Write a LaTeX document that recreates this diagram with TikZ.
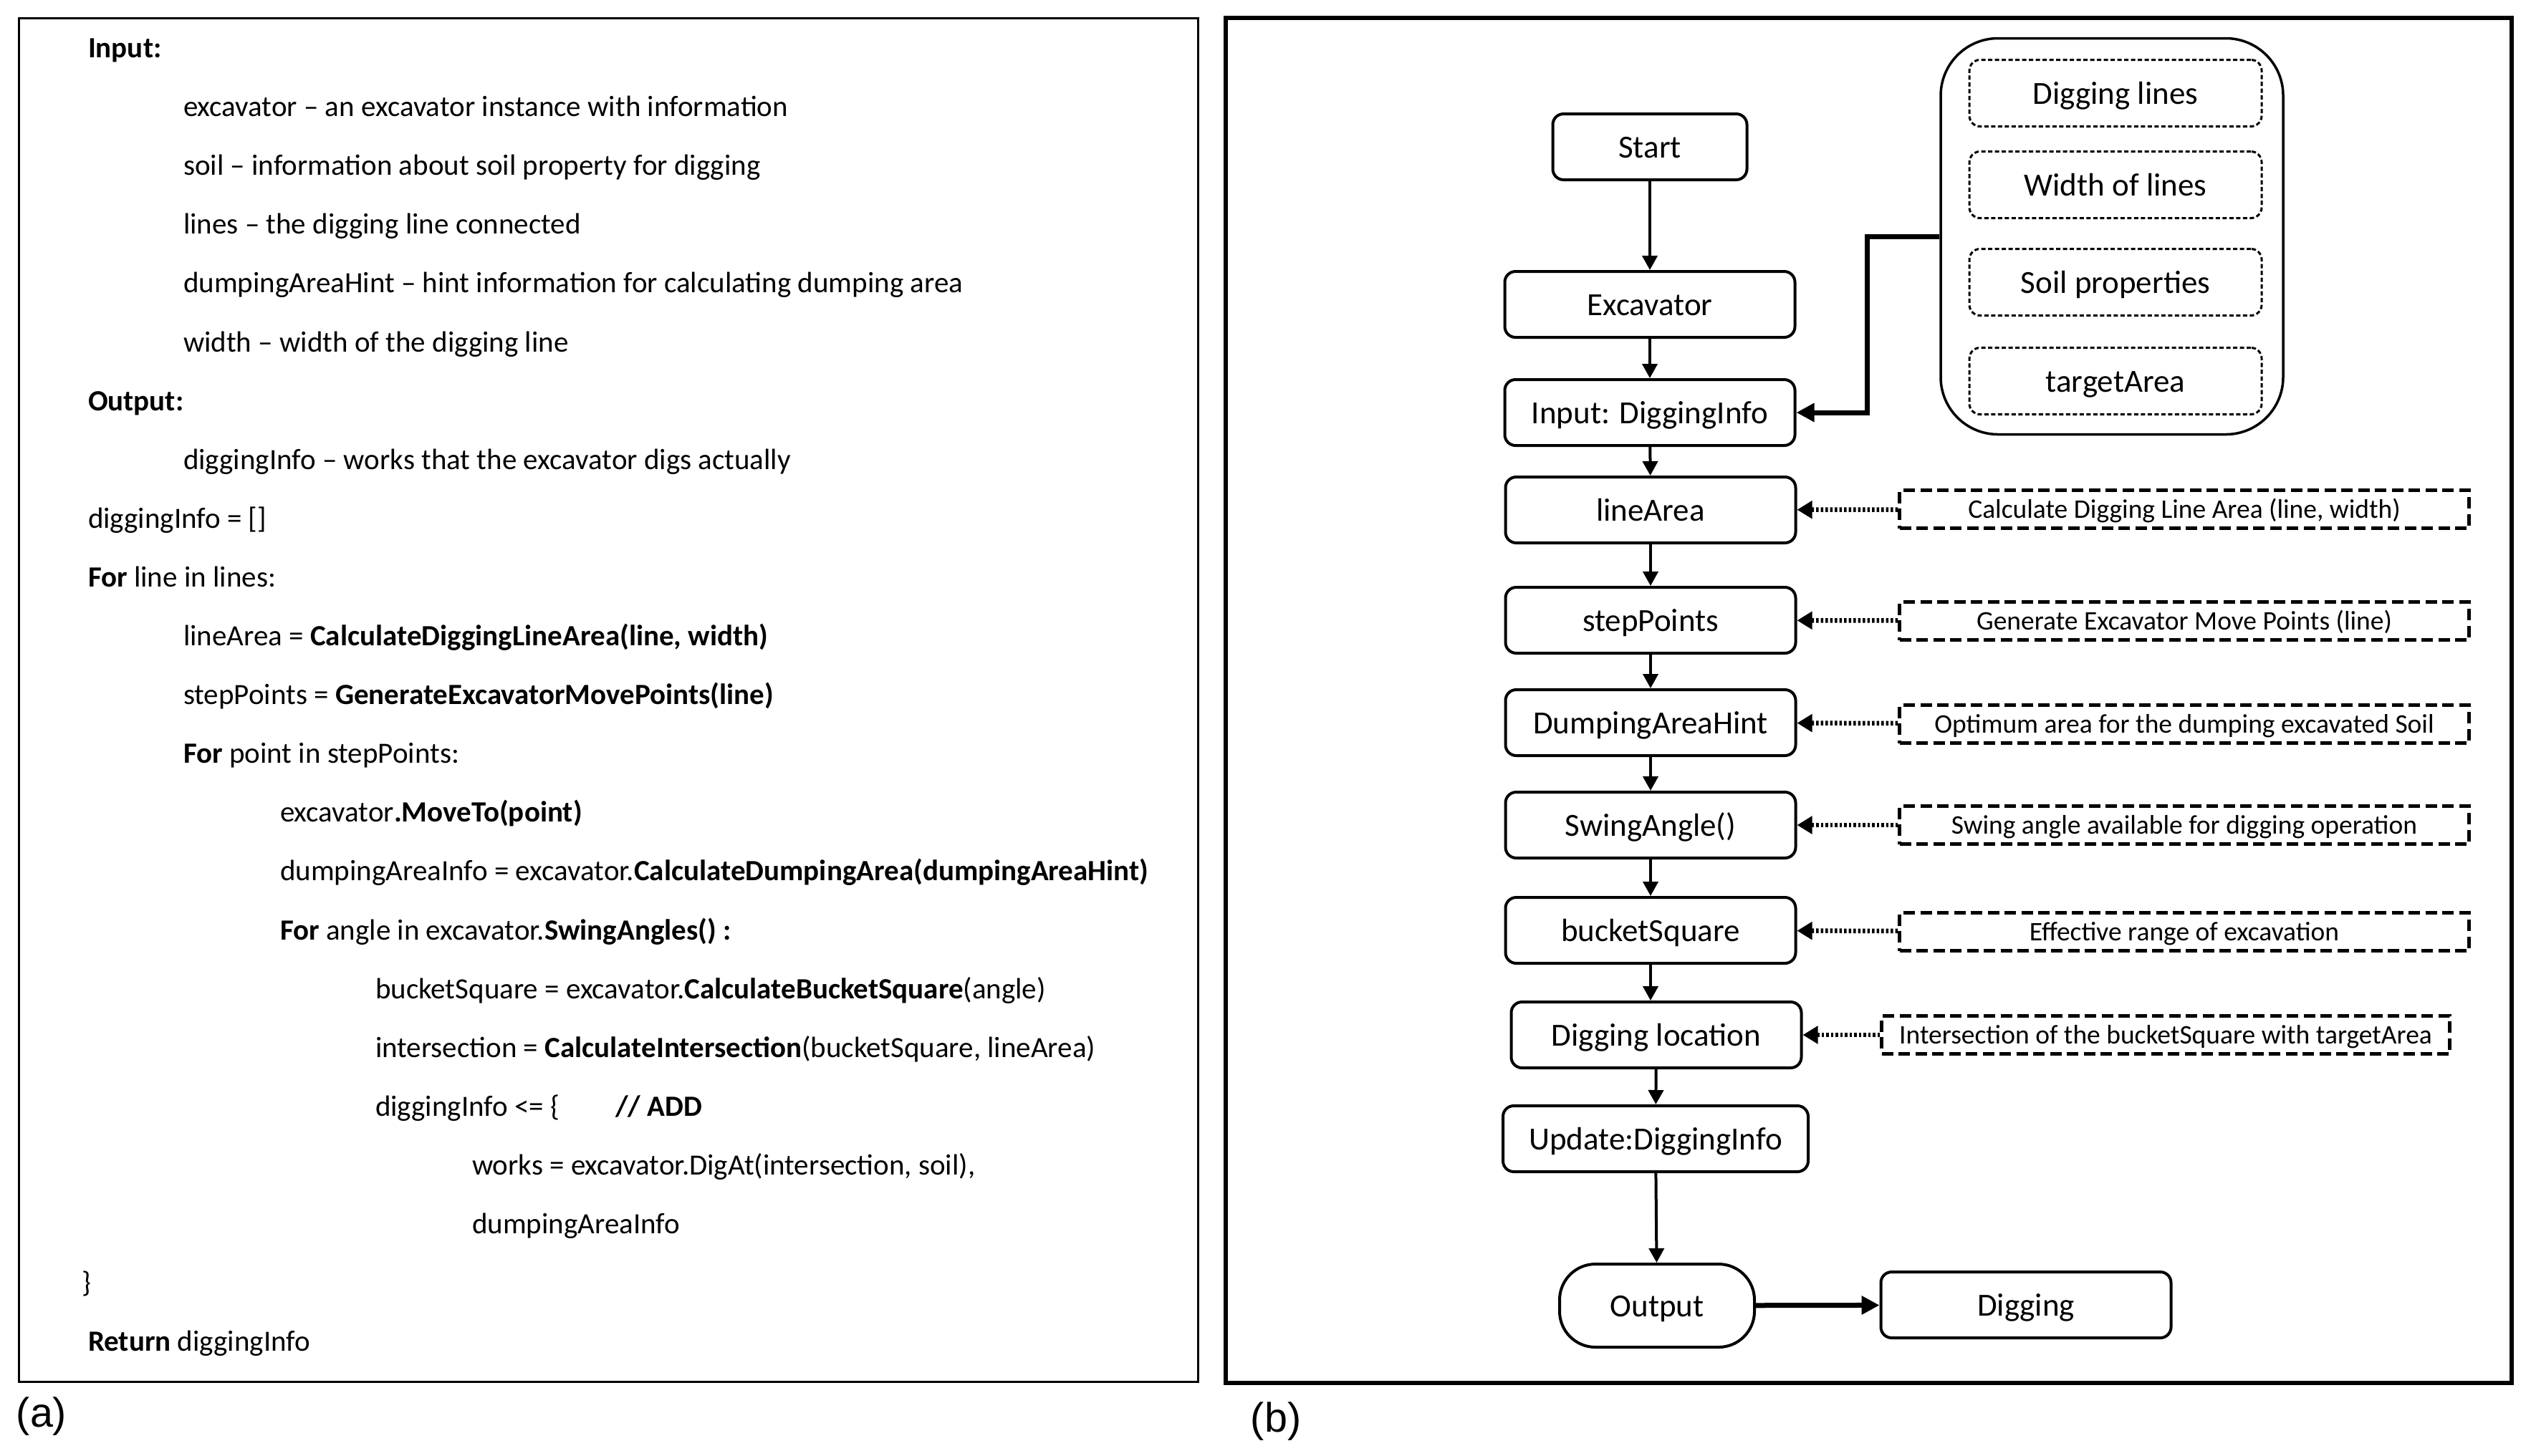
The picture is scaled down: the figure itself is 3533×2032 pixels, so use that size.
\documentclass[tikz,border=0pt]{standalone}
\usepackage{fontspec}
\setmainfont{Carlito}
\newfontfamily\capfont{Liberation Sans}
\usetikzlibrary{arrows.meta}
\begin{document}
\begin{tikzpicture}[x=0.2pt,y=-0.2pt,
  code/.style={anchor=base west, inner sep=0, font=\fontsize{8.2}{10}\selectfont},
  proc/.style={draw, line width=0.8pt, rounded corners=3pt, inner sep=0, text height=6.1pt, text depth=0pt, font=\fontsize{9}{11}\selectfont, minimum width=81pt, minimum height=18.4pt},
  item/.style={draw, line width=0.6pt, dash pattern=on 1.2pt off 0.7pt, rounded corners=3pt, minimum width=81.6pt, minimum height=18.6pt, inner sep=0, text height=6.1pt, text depth=0pt, font=\fontsize{9}{11}\selectfont},
  note/.style={draw, line width=1pt, dash pattern=on 3.2pt off 1.5pt, minimum width=159pt, minimum height=10.6pt, inner sep=0, text height=5pt, text depth=0pt, font=\fontsize{7.5}{9}\selectfont},
  flow/.style={line width=0.8pt, -{Triangle[length=4pt,width=4.2pt]}},
  hint/.style={line width=1.3pt, dash pattern=on 0.7pt off 0.6pt, -{Triangle[length=4.2pt,width=4.8pt]}},
  heavy/.style={line width=1.4pt, -{Triangle[length=5pt,width=5pt]}},
  panel/.style={draw, inner sep=0},
  caplabel/.style={inner sep=0, font=\capfont\fontsize{11.5}{13}\selectfont}
]
\useasboundingbox (0,0) rectangle (3533,2032);
% panels
\node[panel, line width=0.6pt, minimum width=329pt, minimum height=380.8pt] (pa) at (849.5,977) {};
\node[panel, line width=1.2pt, minimum width=359pt, minimum height=381.2pt] (pb) at (2608.5,978) {};
\node[caplabel] (la) at (58,1978) {(a)};
\node[caplabel] (lb) at (1781,1985) {(b)};
% pseudo code
\node[code] (l0) at (122,80) {\textbf{Input:}};
\node[code] (l1) at (255,162) {excavator – an excavator instance with information};
\node[code] (l2) at (255,244) {soil – information about soil property for digging};
\node[code] (l3) at (255,326) {lines – the digging line connected};
\node[code] (l4) at (255,408) {dumpingAreaHint – hint information for calculating dumping area};
\node[code] (l5) at (255,491) {width – width of the digging line};
\node[code] (l6) at (122,573) {\textbf{Output:}};
\node[code] (l7) at (255,655) {diggingInfo – works that the excavator digs actually};
\node[code] (l8) at (122,737) {diggingInfo = []};
\node[code] (l9) at (122,819) {\textbf{For} line in lines:};
\node[code] (l10) at (255,901) {lineArea = \textbf{CalculateDiggingLineArea(line, width)}};
\node[code] (l11) at (255,983) {stepPoints = \textbf{GenerateExcavatorMovePoints(line)}};
\node[code] (l12) at (255,1065) {\textbf{For} point in stepPoints:};
\node[code] (l13) at (390,1147) {excavator\textbf{.MoveTo(point)}};
\node[code] (l14) at (390,1229) {dumpingAreaInfo = excavator.\textbf{CalculateDumpingArea(dumpingAreaHint)}};
\node[code] (l15) at (390,1312) {\textbf{For} angle in excavator.\textbf{SwingAngles() :}};
\node[code] (l16) at (523,1394) {bucketSquare = excavator.\textbf{CalculateBucketSquare}(angle)};
\node[code] (l17) at (523,1476) {intersection = \textbf{CalculateIntersection}(bucketSquare, lineArea)};
\node[code] (l18) at (523,1558) {diggingInfo <= \{};
\node[code] (l18b) at (858,1558) {\textbf{// ADD}};
\node[code] (l19) at (658,1640) {works = excavator.DigAt(intersection, soil),};
\node[code] (l20) at (658,1722) {dumpingAreaInfo};
\node[code] (l21) at (113,1804) {\}};
\node[code] (l22) at (122,1886) {\textbf{Return} diggingInfo};
% flowchart
\node[proc, minimum width=54.2pt] (start) at (2303,205) {Start};
\node[proc] (exc) at (2303,425) {Excavator};
\node[proc] (inp) at (2303,576) {Input: DiggingInfo};
\node[proc] (larea) at (2304,712) {lineArea};
\node[proc] (steps) at (2304,866) {stepPoints};
\node[proc] (dump) at (2304,1009) {DumpingAreaHint};
\node[proc] (swing) at (2304,1152) {SwingAngle()};
\node[proc] (bucket) at (2304,1299) {bucketSquare};
\node[proc] (dloc) at (2312,1445) {Digging location};
\node[proc, minimum width=85.2pt] (upd) at (2311,1590) {Update:DiggingInfo};
\node[proc, minimum width=54.4pt, minimum height=23.2pt, rounded corners=10pt] (out) at (2313,1823) {Output};
\node[proc] (dig) at (2828,1822) {Digging};
% container
\node[draw, line width=0.7pt, rounded corners=16pt, minimum width=95.6pt, minimum height=110.6pt, inner sep=0] (cont) at (2948,330) {};
\node[item] (i1) at (2953,130) {Digging lines};
\node[item] (i2) at (2953,258) {Width of lines};
\node[item] (i3) at (2953,394) {Soil properties};
\node[item] (i4) at (2953,532) {targetArea};
% notes
\node[note] (n1) at (3049,711) {Calculate Digging Line Area (line, width)};
\node[note] (n2) at (3049,867) {Generate Excavator Move Points (line)};
\node[note] (n3) at (3049,1011) {Optimum area for the dumping excavated Soil};
\node[note] (n4) at (3049,1152) {Swing angle available for digging operation};
\node[note] (n5) at (3049,1301) {Effective range of excavation};
\node[note, minimum width=158.6pt] (n6) at (3023,1445) {Intersection of the bucketSquare with targetArea};
% connectors
\draw[flow] (start) -- (exc);
\draw[flow] (exc) -- (inp);
\draw[flow] (inp) -- (larea);
\draw[flow] (larea) -- (steps);
\draw[flow] (steps) -- (dump);
\draw[flow] (dump) -- (swing);
\draw[flow] (swing) -- (bucket);
\draw[flow] (bucket.south) -- (bucket.south |- dloc.north);
\draw[flow] (dloc) -- (upd);
\draw[flow] (upd) -- (out);
\draw[heavy] (out) -- (dig);
\draw[heavy] (cont.west) -- ++(-101,0) |- (inp.east);
\draw[hint] (n1) -- (larea);
\draw[hint] (n2) -- (steps);
\draw[hint] (n3) -- (dump);
\draw[hint] (n4) -- (swing);
\draw[hint] (n5) -- (bucket);
\draw[hint] (n6) -- (dloc);
\end{tikzpicture}
\end{document}
